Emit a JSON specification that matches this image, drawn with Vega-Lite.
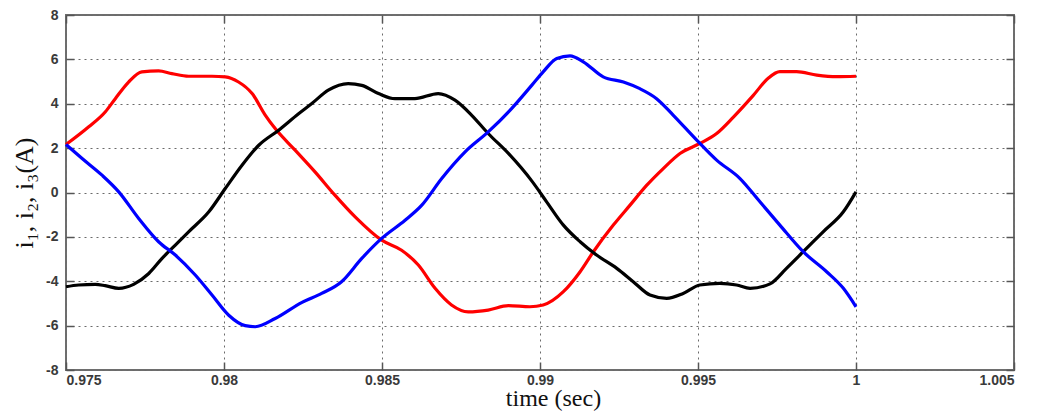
{
  "$schema": "https://vega.github.io/schema/vega-lite/v6.json",
  "width": 948,
  "height": 355,
  "autosize": {"type": "none"},
  "padding": {"left": 66, "top": 15, "right": 31, "bottom": 42},
  "background": "white",
  "config": {
    "view": {"stroke": "#6e6e6e", "strokeWidth": 2},
    "axis": {
      "labelFont": "Liberation Sans",
      "labelFontSize": 14,
      "labelColor": "#3a3a3a",
      "labelFontWeight": "bold",
      "titleFont": "Liberation Serif",
      "titleFontSize": 26,
      "titleFontWeight": "normal",
      "titleColor": "#111111",
      "gridColor": "#6a6a6a",
      "gridDash": [2, 4],
      "gridWidth": 1,
      "gridOpacity": 1,
      "tickColor": "#555555",
      "tickWidth": 1.5,
      "domain": false
    }
  },
  "datasets": {
    "cur": [
      {"t": 0.975, "v": 2.16, "s": "i1"},
      {"t": 0.97572, "v": 2.96, "s": "i1"},
      {"t": 0.97624, "v": 3.63, "s": "i1"},
      {"t": 0.97656, "v": 4.23, "s": "i1"},
      {"t": 0.97698, "v": 4.98, "s": "i1"},
      {"t": 0.9774, "v": 5.44, "s": "i1"},
      {"t": 0.97793, "v": 5.48, "s": "i1"},
      {"t": 0.97835, "v": 5.36, "s": "i1"},
      {"t": 0.97888, "v": 5.24, "s": "i1"},
      {"t": 0.97962, "v": 5.24, "s": "i1"},
      {"t": 0.98004, "v": 5.21, "s": "i1"},
      {"t": 0.98046, "v": 4.98, "s": "i1"},
      {"t": 0.98089, "v": 4.46, "s": "i1"},
      {"t": 0.98131, "v": 3.48, "s": "i1"},
      {"t": 0.98162, "v": 2.88, "s": "i1"},
      {"t": 0.98225, "v": 1.91, "s": "i1"},
      {"t": 0.98288, "v": 0.93, "s": "i1"},
      {"t": 0.98351, "v": -0.12, "s": "i1"},
      {"t": 0.98415, "v": -1.1, "s": "i1"},
      {"t": 0.98499, "v": -2.15, "s": "i1"},
      {"t": 0.98562, "v": -2.6, "s": "i1"},
      {"t": 0.98615, "v": -3.27, "s": "i1"},
      {"t": 0.98668, "v": -4.32, "s": "i1"},
      {"t": 0.9872, "v": -5.07, "s": "i1"},
      {"t": 0.98773, "v": -5.38, "s": "i1"},
      {"t": 0.98836, "v": -5.3, "s": "i1"},
      {"t": 0.989, "v": -5.1, "s": "i1"},
      {"t": 0.98968, "v": -5.15, "s": "i1"},
      {"t": 0.9901, "v": -5.07, "s": "i1"},
      {"t": 0.99074, "v": -4.47, "s": "i1"},
      {"t": 0.99127, "v": -3.57, "s": "i1"},
      {"t": 0.99169, "v": -2.67, "s": "i1"},
      {"t": 0.99232, "v": -1.47, "s": "i1"},
      {"t": 0.99285, "v": -0.57, "s": "i1"},
      {"t": 0.99338, "v": 0.33, "s": "i1"},
      {"t": 0.9939, "v": 1.08, "s": "i1"},
      {"t": 0.99443, "v": 1.76, "s": "i1"},
      {"t": 0.99506, "v": 2.21, "s": "i1"},
      {"t": 0.99559, "v": 2.66, "s": "i1"},
      {"t": 0.99612, "v": 3.4, "s": "i1"},
      {"t": 0.99675, "v": 4.38, "s": "i1"},
      {"t": 0.99722, "v": 5.15, "s": "i1"},
      {"t": 0.99759, "v": 5.45, "s": "i1"},
      {"t": 0.99812, "v": 5.45, "s": "i1"},
      {"t": 0.99876, "v": 5.29, "s": "i1"},
      {"t": 0.99939, "v": 5.22, "s": "i1"},
      {"t": 1.0, "v": 5.24, "s": "i1"},

      {"t": 0.975, "v": -4.25, "s": "i2"},
      {"t": 0.9754, "v": -4.17, "s": "i2"},
      {"t": 0.97593, "v": -4.14, "s": "i2"},
      {"t": 0.97624, "v": -4.2, "s": "i2"},
      {"t": 0.97667, "v": -4.32, "s": "i2"},
      {"t": 0.97714, "v": -4.14, "s": "i2"},
      {"t": 0.97762, "v": -3.65, "s": "i2"},
      {"t": 0.97804, "v": -2.97, "s": "i2"},
      {"t": 0.97846, "v": -2.37, "s": "i2"},
      {"t": 0.97888, "v": -1.77, "s": "i2"},
      {"t": 0.97952, "v": -0.87, "s": "i2"},
      {"t": 0.98004, "v": 0.18, "s": "i2"},
      {"t": 0.98057, "v": 1.23, "s": "i2"},
      {"t": 0.9811, "v": 2.13, "s": "i2"},
      {"t": 0.98173, "v": 2.81, "s": "i2"},
      {"t": 0.98236, "v": 3.55, "s": "i2"},
      {"t": 0.98278, "v": 4.01, "s": "i2"},
      {"t": 0.9833, "v": 4.61, "s": "i2"},
      {"t": 0.98393, "v": 4.91, "s": "i2"},
      {"t": 0.98436, "v": 4.83, "s": "i2"},
      {"t": 0.98489, "v": 4.46, "s": "i2"},
      {"t": 0.98541, "v": 4.23, "s": "i2"},
      {"t": 0.98604, "v": 4.23, "s": "i2"},
      {"t": 0.98678, "v": 4.46, "s": "i2"},
      {"t": 0.98731, "v": 4.16, "s": "i2"},
      {"t": 0.98784, "v": 3.48, "s": "i2"},
      {"t": 0.98836, "v": 2.66, "s": "i2"},
      {"t": 0.989, "v": 1.76, "s": "i2"},
      {"t": 0.98975, "v": 0.5, "s": "i2"},
      {"t": 0.99021, "v": -0.42, "s": "i2"},
      {"t": 0.99074, "v": -1.47, "s": "i2"},
      {"t": 0.99127, "v": -2.22, "s": "i2"},
      {"t": 0.99179, "v": -2.82, "s": "i2"},
      {"t": 0.99243, "v": -3.42, "s": "i2"},
      {"t": 0.99295, "v": -4.02, "s": "i2"},
      {"t": 0.99348, "v": -4.62, "s": "i2"},
      {"t": 0.99401, "v": -4.77, "s": "i2"},
      {"t": 0.99453, "v": -4.55, "s": "i2"},
      {"t": 0.99506, "v": -4.17, "s": "i2"},
      {"t": 0.99569, "v": -4.1, "s": "i2"},
      {"t": 0.99622, "v": -4.17, "s": "i2"},
      {"t": 0.99665, "v": -4.32, "s": "i2"},
      {"t": 0.99728, "v": -4.12, "s": "i2"},
      {"t": 0.9978, "v": -3.42, "s": "i2"},
      {"t": 0.99833, "v": -2.67, "s": "i2"},
      {"t": 0.99896, "v": -1.77, "s": "i2"},
      {"t": 0.9996, "v": -0.87, "s": "i2"},
      {"t": 1.0, "v": 0.03, "s": "i2"},

      {"t": 0.975, "v": 2.16, "s": "i3"},
      {"t": 0.97551, "v": 1.53, "s": "i3"},
      {"t": 0.97614, "v": 0.78, "s": "i3"},
      {"t": 0.97667, "v": 0.03, "s": "i3"},
      {"t": 0.9773, "v": -1.17, "s": "i3"},
      {"t": 0.97793, "v": -2.22, "s": "i3"},
      {"t": 0.97846, "v": -2.82, "s": "i3"},
      {"t": 0.97909, "v": -3.72, "s": "i3"},
      {"t": 0.97962, "v": -4.62, "s": "i3"},
      {"t": 0.98015, "v": -5.53, "s": "i3"},
      {"t": 0.98067, "v": -6.0, "s": "i3"},
      {"t": 0.98099, "v": -6.05, "s": "i3"},
      {"t": 0.98162, "v": -5.68, "s": "i3"},
      {"t": 0.98247, "v": -4.95, "s": "i3"},
      {"t": 0.98309, "v": -4.55, "s": "i3"},
      {"t": 0.98372, "v": -4.02, "s": "i3"},
      {"t": 0.98436, "v": -2.97, "s": "i3"},
      {"t": 0.98499, "v": -2.07, "s": "i3"},
      {"t": 0.98573, "v": -1.25, "s": "i3"},
      {"t": 0.98626, "v": -0.57, "s": "i3"},
      {"t": 0.98689, "v": 0.63, "s": "i3"},
      {"t": 0.98763, "v": 1.83, "s": "i3"},
      {"t": 0.98836, "v": 2.73, "s": "i3"},
      {"t": 0.9891, "v": 3.78, "s": "i3"},
      {"t": 0.98975, "v": 4.85, "s": "i3"},
      {"t": 0.9901, "v": 5.44, "s": "i3"},
      {"t": 0.99053, "v": 6.04, "s": "i3"},
      {"t": 0.99095, "v": 6.16, "s": "i3"},
      {"t": 0.99137, "v": 5.89, "s": "i3"},
      {"t": 0.992, "v": 5.21, "s": "i3"},
      {"t": 0.99264, "v": 4.98, "s": "i3"},
      {"t": 0.99316, "v": 4.68, "s": "i3"},
      {"t": 0.99369, "v": 4.23, "s": "i3"},
      {"t": 0.99422, "v": 3.48, "s": "i3"},
      {"t": 0.99496, "v": 2.36, "s": "i3"},
      {"t": 0.99559, "v": 1.46, "s": "i3"},
      {"t": 0.99633, "v": 0.63, "s": "i3"},
      {"t": 0.99696, "v": -0.42, "s": "i3"},
      {"t": 0.99759, "v": -1.47, "s": "i3"},
      {"t": 0.99833, "v": -2.67, "s": "i3"},
      {"t": 0.99907, "v": -3.57, "s": "i3"},
      {"t": 0.9996, "v": -4.32, "s": "i3"},
      {"t": 1.0, "v": -5.15, "s": "i3"}
    ]
  },
  "data": {"name": "cur"},
  "layer": [
    {
      "mark": {"type": "line", "strokeWidth": 3.2, "strokeJoin": "round", "interpolate": "monotone"},
      "encoding": {
        "x": {
          "field": "t", "type": "quantitative",
          "scale": {"domain": [0.975, 1.005], "nice": false, "zero": false},
          "axis": {
            "orient": "bottom",
            "values": [0.975, 0.98, 0.985, 0.99, 0.995, 1.0, 1.005],
            "format": ".3~f",
            "title": "time (sec)",
            "titleFontSize": 24,
            "tickSize": -8,
            "labelPadding": 11,
            "titlePadding": -1,
            "titleX": 487,
            "grid": true
          }
        },
        "y": {
          "field": "v", "type": "quantitative",
          "scale": {"domain": [-8, 8], "nice": false},
          "axis": {
            "orient": "left",
            "values": [-8, -6, -4, -2, 0, 2, 4, 6, 8],
            "labelExpr": "'' + datum.value",
            "title": "i₁, i₂, i₃(A)",
            "tickSize": -8,
            "labelPadding": 16,
            "titlePadding": 8,
            "grid": true
          }
        },
        "color": {
          "field": "s", "type": "nominal",
          "scale": {"domain": ["i1", "i2", "i3"], "range": ["#ff0000", "#000000", "#0000ff"]},
          "legend": null
        }
      }
    },
    {
      "mark": {"type": "line", "opacity": 0},
      "encoding": {
        "x": {
          "field": "t", "type": "quantitative",
          "axis": {
            "orient": "top",
            "values": [0.975, 0.98, 0.985, 0.99, 0.995, 1.0, 1.005],
            "labels": false, "title": null, "grid": false, "tickSize": -8
          }
        },
        "y": {
          "field": "v", "type": "quantitative",
          "axis": {
            "orient": "right",
            "values": [-8, -6, -4, -2, 0, 2, 4, 6, 8],
            "labels": false, "title": null, "grid": false, "tickSize": -8
          }
        },
        "detail": {"field": "s"}
      }
    }
  ],
  "resolve": {"axis": {"x": "independent", "y": "independent"}}
}
